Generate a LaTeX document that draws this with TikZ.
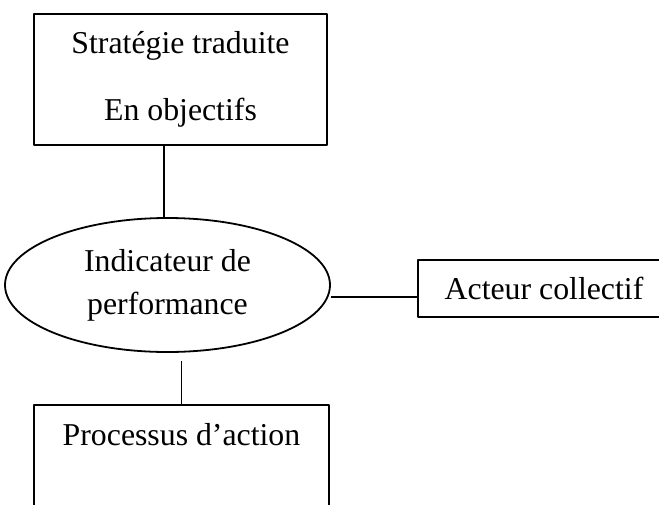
\documentclass[tikz,border=0pt]{standalone}
\usepackage{fontspec}
\setmainfont{Liberation Serif}
\usetikzlibrary{shapes.geometric}
\tikzset{
  cadre/.style={draw,line width=1.8pt,rectangle,inner sep=0pt,align=center},
  bulle/.style={draw,line width=1.8pt,ellipse,inner sep=0pt,align=center,
    minimum width=325pt,minimum height=134pt},
  lien/.style={line width=1.8pt}
}
\begin{document}
\begin{tikzpicture}[x=1pt,y=-1pt,line join=round,
  font=\fontsize{31.8}{43}\selectfont]
\useasboundingbox (0,0) rectangle (659,504);
\clip (0,0) rectangle (659,504);
\node[cadre,minimum width=293pt,minimum height=131pt,
  font=\fontsize{31.8}{67}\selectfont] (strat) at (180.5,79.5) {Stratégie traduite\\En objectifs};
\node[bulle] (indic) at (167.5,285) {Indicateur de\\performance};
\node[cadre,minimum width=252pt,minimum height=57pt] (acteur) at (544,288.5) {Acteur collectif};
\node[cadre,minimum width=295pt,text height=22pt,text depth=84pt,inner ysep=18pt] (proc) at (181.5,476) {Processus d’action};
\draw[lien]([xshift=-3.5pt]indic.north)--([xshift=-3.5pt]indic.north |- strat.south);
\draw[lien]([yshift=-8.5pt]acteur.west -| indic.east)--([yshift=-8.5pt]acteur.west);
\draw[lien](proc.north)--([yshift=-8pt]proc.north |- indic.south);
\end{tikzpicture}
\end{document}
